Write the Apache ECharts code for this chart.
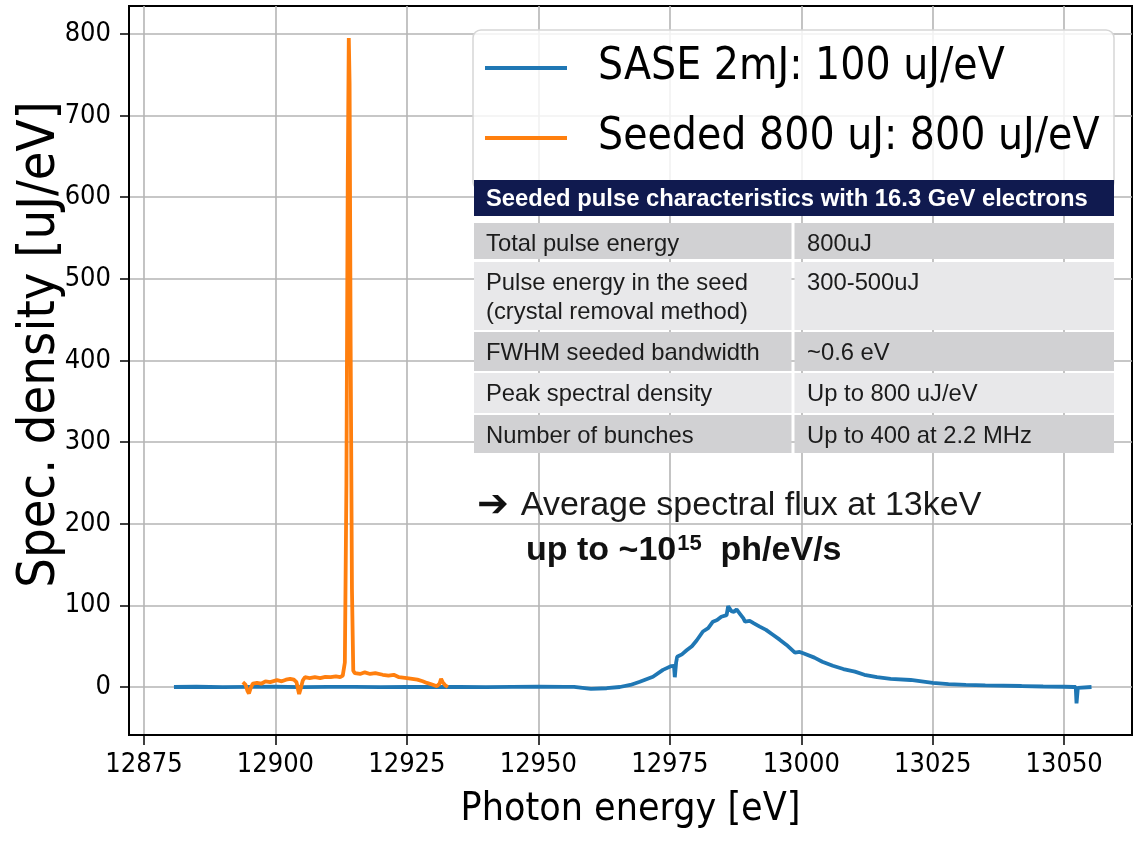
<!DOCTYPE html>
<html>
<head>
<meta charset="utf-8">
<title>Seeded vs SASE spectrum</title>
<script src="https://cdn.jsdelivr.net/npm/echarts@6/dist/echarts.min.js"></script>
<style>
  html, body { margin: 0; padding: 0; background: #ffffff; }
  #chart { width: 1136px; height: 841px; }
</style>
</head>
<body>
<div id="chart"></div>
<script>
// Spectral density of a SASE pulse and a self-seeded pulse, photon energy in eV, density in uJ/eV
const saseName = 'SASE 2mJ: 100 uJ/eV';
const seededName = 'Seeded 800 uJ: 800 uJ/eV';

const saseEnergy = [
  12880.7, 12885, 12890, 12895, 12900, 12905, 12910, 12915, 12920, 12925,
  12930, 12935, 12940, 12945, 12950, 12955, 12956.8, 12957.0, 12960, 12963,
  12965.5, 12967.5, 12969.3, 12971.8, 12973.7, 12975.3, 12975.8, 12975.95, 12976.2, 12976.4,
  12977.3, 12978.2, 12979.2, 12980.1, 12981.3, 12982.3, 12983.2, 12984.0, 12984.8, 12985.8,
  12986.1, 12986.7, 12987.2, 12987.7, 12988.3, 12989.0, 12989.3, 12990.2, 12991, 12992.1,
  12993.3, 12994.6, 12995.9, 12997.2, 12998.8, 12999.7, 13000.5, 13002.5, 13004, 13006,
  13008, 13010.2, 13012, 13014.4, 13017, 13020.8, 13025, 13028, 13031.3, 13035,
  13041.9, 13046, 13050, 13051.8, 13052.2, 13052.35, 13052.6, 13052.8, 13055.2
];
const saseDensity = [
  0, 0.3, -0.2, 0.2, 0.3, -0.2, 0.2, 0.1, -0.1, 0.2,
  0, 0.2, -0.2, 0.1, 0.3, 0.1, 0.2, -2, -2.3, -1.5,
  0, 2.5, 6.5, 12.6, 21, 25.7, 26, 12, 30, 37,
  40, 45, 50, 57, 68, 72, 80, 82, 86, 88,
  99, 93, 92, 95, 90, 84, 80, 81, 78, 74,
  70, 64, 58, 51.5, 42, 43, 41, 36, 31, 26,
  22, 18.8, 15, 12, 10, 8.6, 5, 3.5, 2.5, 2,
  1.2, 0.6, 0.3, 0, 0, -20, -1, 0.5, 0
];

const seededEnergy = [
  12893.8, 12894.3, 12894.7, 12894.96, 12895.3, 12895.7, 12896.5, 12897.3, 12898.1, 12899,
  12900.3, 12901.2, 12902, 12902.8, 12903.5, 12904.0, 12904.3, 12904.5, 12904.8, 12905.2,
  12905.6, 12906.5, 12907.5, 12908.5, 12909.5, 12910.5, 12911.5, 12912.3, 12912.8, 12913.2,
  12913.5, 12913.75, 12913.95, 12914.1, 12914.3, 12914.55, 12914.8, 12915.1, 12916.1, 12917,
  12918, 12919, 12920.4, 12921.5, 12922.5, 12923.5, 12925.0, 12926, 12927, 12928,
  12928.8, 12929.8, 12930.7, 12931.2, 12931.5, 12931.8, 12932.3, 12932.8
];
const seededDensity = [
  6, 3, -5, -8, -1, 4, 5, 4, 7, 6,
  8.5, 7, 9, 10, 9, 6, -3, -8.5, -2, 8,
  12, 11, 12, 11, 12.5, 12, 13, 12, 14, 30,
  250, 620, 795, 740, 420, 120, 20, 17, 16, 18,
  16, 17, 15, 14, 15, 12, 11, 10, 9, 7,
  5, 3, 1, 4, 10, 6, 2, 0
];

const xTicks = [12875, 12900, 12925, 12950, 12975, 13000, 13025, 13050];
const yTicks = [0, 100, 200, 300, 400, 500, 600, 700, 800];

const xTitle = 'Photon energy [eV]';
const yTitle = 'Spec. density [uJ/eV]';

const tableTitle = 'Seeded pulse characteristics with 16.3 GeV electrons';
const tableLabels = [
  'Total pulse energy',
  'Pulse energy in the seed\n(crystal removal method)',
  'FWHM seeded bandwidth',
  'Peak spectral density',
  'Number of bunches'
];
const tableValues = [
  '800uJ',
  '300-500uJ',
  '~0.6 eV',
  'Up to 800 uJ/eV',
  'Up to 400 at 2.2 MHz'
];

const noteLine1 = 'Average spectral flux at 13keV';
const noteLine2Base = 'up to ~10';
const noteLine2Exp = '15';
const noteLine2Unit = 'ph/eV/s';

// ---- build series data
function pairs(xs, ys) { return xs.map((x, i) => [x, ys[i]]); }

const mplFont = 'DejaVu Sans Condensed, DejaVu Sans, sans-serif';
const slideFont = 'Liberation Sans, Arial, sans-serif';

// ---- table layout
const tLeft = 474, tRight = 1114, tSplit = 793;
const headTop = 180, headH = 36;
const rowBoxes = [[223, 36], [262, 68], [332, 39], [373, 40], [415, 38]];
const rowColors = ['#d1d1d3', '#e8e8ea'];

const graphics = [];
// legend frame (semi-transparent, like a matplotlib legend)
graphics.push({
  type: 'rect', z: 3,
  shape: { x: 473, y: 30, width: 641, height: 160, r: 8 },
  style: { fill: 'rgba(255,255,255,0.82)', stroke: '#d6d6d6', lineWidth: 1.5 }
});
graphics.push({
  type: 'rect', z: 5,
  shape: { x: tLeft, y: headTop, width: tRight - tLeft, height: headH },
  style: { fill: '#101a4f' }
});
graphics.push({
  type: 'text', z: 6, x: 486, y: headTop + headH / 2 + 1,
  style: {
    text: tableTitle, fill: '#ffffff', font: 'bold 23.8px ' + slideFont,
    verticalAlign: 'middle', align: 'left'
  }
});
tableLabels.forEach((label, i) => {
  const [top, h] = rowBoxes[i];
  const fill = rowColors[i % 2];
  graphics.push({
    type: 'rect', z: 5,
    shape: { x: tLeft, y: top, width: tSplit - tLeft - 1.5, height: h },
    style: { fill }
  });
  graphics.push({
    type: 'rect', z: 5,
    shape: { x: tSplit + 1.5, y: top, width: tRight - tSplit - 1.5, height: h },
    style: { fill }
  });
  graphics.push({
    type: 'text', z: 6, x: 486, y: top + 7,
    style: {
      text: label, fill: '#1c1c1c', font: '23.8px ' + slideFont,
      lineHeight: 29, verticalAlign: 'top', align: 'left'
    }
  });
  graphics.push({
    type: 'text', z: 6, x: 807, y: top + 7,
    style: {
      text: tableValues[i], fill: '#1c1c1c', font: '23.8px ' + slideFont,
      lineHeight: 29, verticalAlign: 'top', align: 'left'
    }
  });
});
// flux note below the table
graphics.push({
  type: 'text', z: 6, x: 477, y: 506,
  style: {
    text: '{arr|➔}{txt|' + noteLine1 + '}',
    verticalAlign: 'middle', align: 'left',
    rich: {
      arr: { fontSize: 38, fontWeight: 'bold', fontFamily: 'DejaVu Sans', fill: '#111', padding: [0, 12, 0, 0] },
      txt: { fontSize: 34, fontFamily: slideFont, fill: '#1a1a1a' }
    }
  }
});
graphics.push({
  type: 'text', z: 6, x: 526, y: 551,
  style: {
    text: '{b|' + noteLine2Base + '}{s|' + noteLine2Exp + '}{b|  ' + noteLine2Unit + '}',
    verticalAlign: 'middle', align: 'left',
    rich: {
      b: { fontSize: 34, fontWeight: 'bold', fontFamily: slideFont, fill: '#111' },
      s: { fontSize: 22, fontWeight: 'bold', fontFamily: slideFont, fill: '#111', padding: [0, 0, 14, 1] }
    }
  }
});

const chart = echarts.init(document.getElementById('chart'), null, { renderer: 'canvas' });
chart.setOption({
  backgroundColor: '#ffffff',
  animation: false,
  grid: {
    left: 129, top: 6, right: 4, bottom: 106,
    outerBoundsMode: 'none', containLabel: false,
    show: true, borderColor: '#000', borderWidth: 2, backgroundColor: 'transparent'
  },
  legend: {
    orient: 'vertical', left: 485, top: 43, padding: 0,
    itemWidth: 82, itemHeight: 4, itemGap: 20,
    icon: 'rect',
    textStyle: { fontFamily: mplFont, fontSize: 44, color: '#000', lineHeight: 50, padding: [0, 0, 0, 26] },
    z: 4,
    data: [saseName, seededName]
  },
  xAxis: {
    type: 'value', min: 12872.15, max: 13062.9,
    name: xTitle, nameLocation: 'middle', nameGap: 55, nameMoveOverlap: false,
    nameTextStyle: { fontFamily: mplFont, fontSize: 39, color: '#000' },
    axisLine: { show: true, onZero: false, lineStyle: { color: '#000', width: 2 } },
    axisTick: { show: true, inside: false, length: 10, customValues: xTicks, lineStyle: { color: '#000', width: 1.5 } },
    axisLabel: { customValues: xTicks, margin: 16, fontFamily: mplFont, fontSize: 27, color: '#000', formatter: v => String(v) },
    splitLine: { show: true, lineStyle: { color: '#b5b5b5', width: 1.6 } }
  },
  yAxis: {
    type: 'value', min: -58.8, max: 834.3,
    name: yTitle, nameLocation: 'middle', nameGap: 63, nameRotate: 90, nameMoveOverlap: false,
    nameTextStyle: { fontFamily: mplFont, fontSize: 52, color: '#000', padding: [0, 0, 0, 52] },
    axisLine: { show: true, onZero: false, lineStyle: { color: '#000', width: 2 } },
    axisTick: { show: true, inside: false, length: 9, customValues: yTicks, lineStyle: { color: '#000', width: 1.5 } },
    axisLabel: { customValues: yTicks, margin: 18, fontFamily: mplFont, fontSize: 27, color: '#000', formatter: v => String(v) },
    splitLine: { show: true, lineStyle: { color: '#b5b5b5', width: 1.6 } }
  },
  series: [
    {
      name: saseName, type: 'line', data: pairs(saseEnergy, saseDensity),
      showSymbol: false, symbol: 'none', z: 2,
      lineStyle: { color: '#1f77b4', width: 3.8 }, itemStyle: { color: '#1f77b4' }
    },
    {
      name: seededName, type: 'line', data: pairs(seededEnergy, seededDensity),
      showSymbol: false, symbol: 'none', z: 3,
      lineStyle: { color: '#ff7f0e', width: 3.8 }, itemStyle: { color: '#ff7f0e' }
    }
  ],
  graphic: { elements: graphics }
});
</script>
</body>
</html>
